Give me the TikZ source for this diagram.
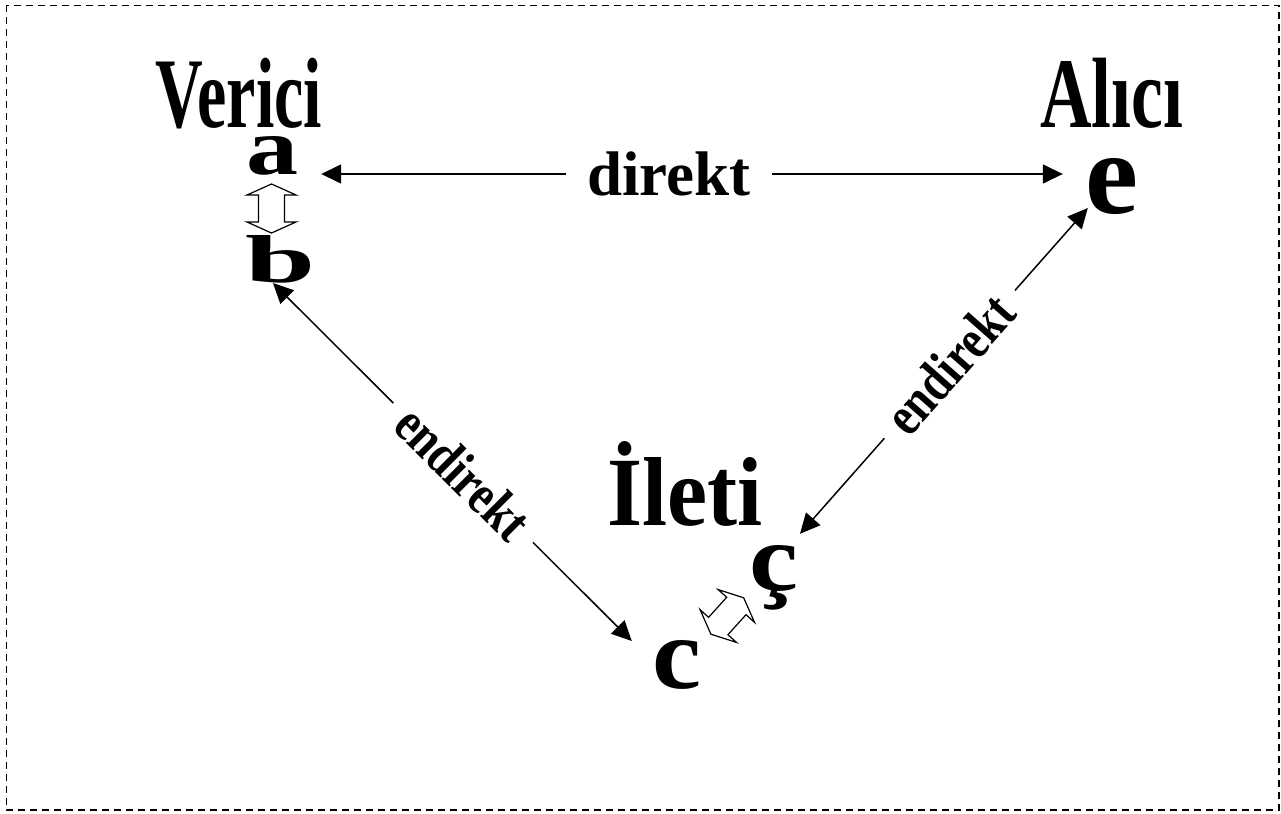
\documentclass[tikz,border=0pt]{standalone}
\usepackage{fontspec}
\usepackage{graphicx}
\setmainfont{Liberation Serif}
\usetikzlibrary{arrows.meta,calc}
\newcommand{\bigletter}[3]{\resizebox{#1}{#2}{\bfseries #3}}
\tikzset{
  title/.style={inner sep=0pt, anchor=base, font=\fontsize{100}{100}\selectfont\bfseries},
  letter/.style={inner sep=0pt, anchor=base},
  conn/.style={line width=1.5pt, {Triangle[length=20pt,width=19pt]}-{Triangle[length=20pt,width=19pt]}},
  lbl/.style={fill=white, inner ysep=0pt, font=\fontsize{63}{63}\selectfont\bfseries},
  slbl/.style={fill=white, sloped, inner ysep=0pt, inner xsep=16pt, font=\fontsize{56}{56}\selectfont\bfseries},
  hollow/.pic={\draw[line width=1.2pt, line join=miter]
     (-24.5,0) -- (-13.5,24.5) -- (-13.5,13) -- (13.5,13) -- (13.5,24.5) -- (24.5,0)
     -- (13.5,-24.5) -- (13.5,-13) -- (-13.5,-13) -- (-13.5,-24.5) -- cycle;}
}
\begin{document}
\begin{tikzpicture}[x=1pt,y=-1pt]
\useasboundingbox (0,0) rectangle (1281,813);
\draw[line width=1.3pt, dash pattern=on 7pt off 5pt] (6.5,5.5) rectangle (1279,810);

% titles
\node[title] (verici) at (239,128) {\scalebox{0.66}[1]{Verici}};
\node[title] (alici) at (1111.5,128) {\scalebox{0.715}[1]{Alıcı}};
\node[title, font=\fontsize{98}{98}\selectfont\bfseries] (ileti) at (685,525) {\scalebox{0.92}[1]{İleti}};

% letters
\node[letter] (a) at (272,175) {\bigletter{52pt}{38pt}{a}};
\node[letter] (b) at (281,282) {\bigletter{70pt}{47pt}{b}};
\node[letter] (e) at (1111.5,213) {\bigletter{53pt}{55pt}{e}};
\node[letter] (c) at (676.5,688) {\bigletter{49pt}{48pt}{c}};
\node[letter] (cc) at (773.5,590) {\bigletter{49pt}{45pt}{ç}};

% hollow double arrows
\pic[rotate=90] at (271.5,208.5) {hollow};
\pic[rotate=48] at (727.3,616) {hollow};

% connectors
\draw[conn] ([shift={(23,-1)}]a.base east) -- node[lbl, pos=0.469, inner xsep=21pt] {direkt} ([shift={(-22,-39)}]e.base west);
\draw[conn] ([shift={(-8,1)}]b.base) -- node[slbl, pos=0.53] {\scalebox{0.82}[1]{endirekt}} ([shift={(-20,-47)}]c.base west);
\draw[conn] ([shift={(26.5,-11)}]cc.north) -- node[slbl, pos=0.52] {\scalebox{0.82}[1]{endirekt}} ([shift={(3,-5)}]e.base west);
\end{tikzpicture}
\end{document}
